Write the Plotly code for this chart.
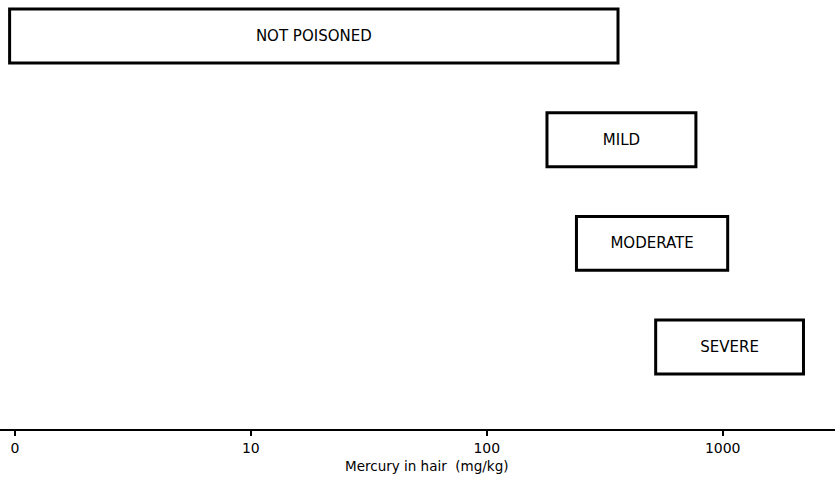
import plotly.graph_objects as go

# Data (mercury in hair, mg/kg)
categories = ["NOT POISONED", "MILD", "MODERATE", "SEVERE"]
range_low = [0.95, 180, 240, 520]
range_high = [360, 770, 1050, 2200]
tick_values = [1, 10, 100, 1000]
tick_labels = ["0", "10", "100", "1000"]
x_title = "Mercury in hair  (mg/kg)"

lengths = [h - l for l, h in zip(range_low, range_high)]

fig = go.Figure()
fig.add_trace(go.Bar(
    y=categories,
    x=lengths,
    base=range_low,
    orientation="h",
    width=0.52,
    marker=dict(color="white", line=dict(color="black", width=3)),
    text=categories,
    textposition="inside",
    insidetextanchor="middle",
    constraintext="none",
    textfont=dict(family="DejaVu Sans", size=15, color="black"),
    hoverinfo="skip",
))

fig.add_annotation(
    text=x_title, xref="paper", yref="paper",
    x=0.511, y=-0.086, xanchor="center", yanchor="middle",
    showarrow=False,
    font=dict(family="DejaVu Sans", size=13.5, color="black"),
)

fig.update_layout(
    width=835, height=481,
    margin=dict(l=0, r=0, t=0, b=52),
    paper_bgcolor="white", plot_bgcolor="white",
    showlegend=False,
    xaxis=dict(
        type="log",
        range=[-0.063, 3.476],
        tickvals=tick_values,
        ticktext=tick_labels,
        ticks="outside", ticklen=5, tickwidth=2, tickcolor="black",
        showline=True, linecolor="black", linewidth=2,
        showgrid=False, zeroline=False,
        tickfont=dict(family="DejaVu Sans", size=14, color="black"),
    ),
    yaxis=dict(
        type="category",
        range=[3.79, -0.347],
        visible=False,
        showgrid=False,
    ),
)

fig.write_html("out.html", config={"displayModeBar": False})
